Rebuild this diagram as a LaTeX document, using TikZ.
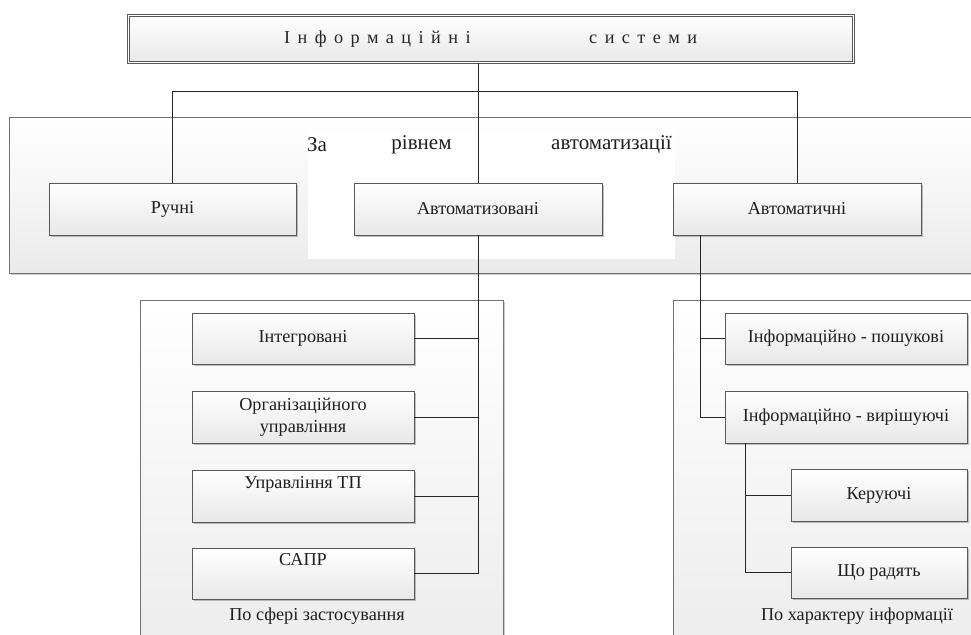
\documentclass[tikz,border=0pt]{standalone}
\usepackage{fontspec}
\setmainfont{Liberation Serif}
\usetikzlibrary{shadows,calc}
\begin{document}
\begin{tikzpicture}[x=1pt,y=-1pt,
  bx/.style={draw=black!65, line width=0.7pt, top color=white, bottom color=black!9,
    drop shadow={shadow xshift=1.6pt, shadow yshift=-1.6pt, fill=black!45, opacity=0.55},
    inner sep=0pt, font=\fontsize{18.2}{21.5}\selectfont, text=black!88, align=center},
  grp/.style={draw=black!55, line width=0.7pt, top color=white, bottom color=black!8,
    drop shadow={shadow xshift=1.6pt, shadow yshift=-1.6pt, fill=black!40, opacity=0.5}},
  ln/.style={draw=black!85, line width=0.7pt},
  captxt/.style={inner sep=0pt, font=\fontsize{18.2}{21.5}\selectfont, text=black!88},
  bigtxt/.style={inner sep=0pt, font=\fontsize{21}{25}\selectfont, text=black!88},
  ttltxt/.style={inner sep=0pt, anchor=west, font=\fontsize{18.2}{21.5}\selectfont\addfontfeatures{LetterSpace=41}, text=black!85}
]
\useasboundingbox (0,0) rectangle (971,634);
\clip (0,0) rectangle (971,634);
\fill[white] (0,0) rectangle (971,634);

% group frames
\path[grp] (9,117) rectangle (1000,273);
\fill[white] (308,131) rectangle (675,259);
\path[grp] (140,300) rectangle (503,680);
\path[grp] (673,300) rectangle (1000,680);

% title
\node[bx, double=white, double distance=1.1pt, minimum width=725pt, minimum height=47pt] (title) at (491,39) {};
\node[ttltxt] (t1) at (284,39) {Інформаційні};
\node[ttltxt] (t2) at (589,39) {системи};

% group captions
\node[bigtxt] (za) at (317,145) {За};
\node[bigtxt] (rivnem) at (421.5,145) {рівнем};
\node[bigtxt] (avtom) at (611.5,145) {автоматизації};
\node[captxt] (sfera) at (317,616) {По сфері застосування};
\node[captxt] (khar) at (857,616) {По характеру інформації};

% boxes
\node[bx, minimum width=247pt, minimum height=52pt] (ruchni) at (172.5,209) {Ручні};
\node[bx, minimum width=248pt, minimum height=52pt] (avtz) at (478,209) {Автоматизовані};
\node[bx, minimum width=248pt, minimum height=52pt] (avtch) at (797,209) {Автоматичні};

\node[bx, minimum width=222pt, minimum height=51pt] (integ) at (303,338.5) {Інтегровані};
\node[bx, minimum width=222pt, minimum height=52pt] (org) at (303,417) {Організаційного\\управління};
\node[bx, minimum width=222pt, minimum height=52pt] (uptp) at (303,496) {Управління ТП\\\strut};
\node[bx, minimum width=222pt, minimum height=51pt] (sapr) at (303,573.5) {САПР\\\strut};

\node[bx, minimum width=242pt, minimum height=51pt] (infp) at (846,338.5) {Інформаційно - пошукові};
\node[bx, minimum width=242pt, minimum height=52pt] (infv) at (846,417) {Інформаційно - вирішуючі};
\node[bx, minimum width=176pt, minimum height=52pt] (ker) at (879,495) {Керуючі};
\node[bx, minimum width=176pt, minimum height=51pt] (shcho) at (879,572.5) {Що радять};

% connectors
\coordinate (hl) at (0,91);
\coordinate (rv) at (700,0);
\coordinate (rv2) at (745,0);
\draw[ln] (avtz.north) -- (avtz.north |- title.south);
\draw[ln] (ruchni.north) -- (ruchni.north |- hl) -- (avtch.north |- hl) -- (avtch.north);
\draw[ln] (avtz.south) -- (avtz.south |- sapr.east) -- (sapr.east);
\draw[ln] (integ.east) -- (integ.east -| avtz.south);
\draw[ln] (org.east) -- (org.east -| avtz.south);
\draw[ln] (uptp.east) -- (uptp.east -| avtz.south);
\draw[ln] (rv |- avtch.south) -- (rv |- infv.west) -- (infv.west);
\draw[ln] (rv |- infp.west) -- (infp.west);
\draw[ln] (rv2 |- infv.south) -- (rv2 |- shcho.west) -- (shcho.west);
\draw[ln] (rv2 |- ker.west) -- (ker.west);
\end{tikzpicture}
\end{document}
